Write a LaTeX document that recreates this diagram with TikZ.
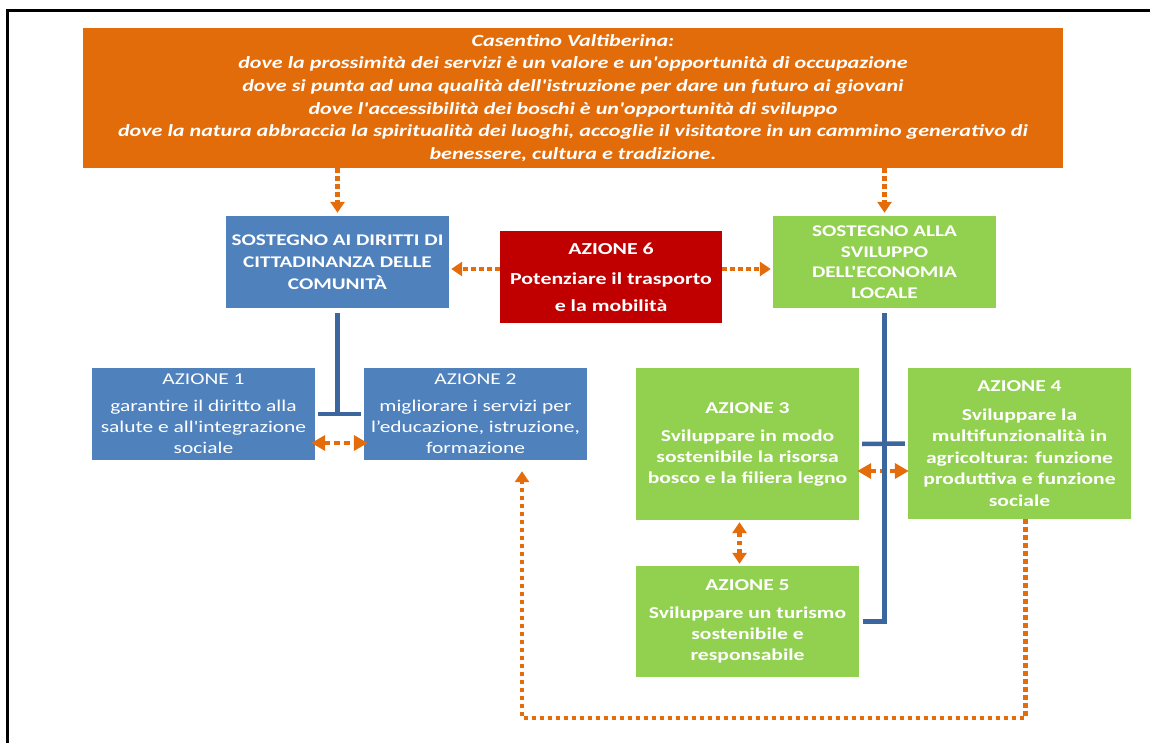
\documentclass[tikz,border=0pt]{standalone}
\usepackage{fontspec}
\setmainfont{Carlito}[FakeStretch=1.3, Ligatures=TeXOff]
\usetikzlibrary{arrows.meta}
\definecolor{orbox}{HTML}{E36C0A}
\definecolor{orarr}{HTML}{E46C0A}
\definecolor{blbox}{HTML}{4F81BD}
\definecolor{blline}{HTML}{3C679E}
\definecolor{grbox}{HTML}{92D050}
\definecolor{rdbox}{HTML}{C00000}
\begin{document}
\begin{tikzpicture}[x=1pt,y=-1pt,
  box/.style={rectangle, inner sep=0pt, text=white, align=center,
    minimum width=223pt},
  bbold/.style={box, font=\fontsize{16.3}{21}\selectfont\bfseries},
  breg/.style={box, font=\fontsize{16.5}{21}\selectfont},
  dotarrow/.style={draw=orarr, line width=4.5pt, dash pattern=on 4.5pt off 3.5pt,
    -{Triangle[width=14pt,length=11pt]}, line cap=butt},
  dotboth/.style={dotarrow, {Triangle[width=14pt,length=11pt]}-{Triangle[width=14pt,length=11pt]}},
  bigboth/.style={dotarrow, dash pattern=on 6pt off 4pt, {Triangle[width=15pt,length=14pt]}-{Triangle[width=15pt,length=14pt]}},
  conn/.style={draw=blline, line width=4.5pt},
]
\useasboundingbox (0,0) rectangle (1150,743);
\draw[line width=3pt] (7,743) -- (7,11) -- (1150,11);

% top box
\node[rectangle, fill=orbox, inner sep=0pt, minimum width=980pt, minimum height=140pt,
  text=white, align=center, font=\fontsize{17}{22.6}\selectfont\bfseries\itshape]
  (top) at (573,98) {Casentino Valtiberina:\\
  dove la prossimità dei servizi è un valore e un'opportunità di occupazione\\
  dove si punta ad una qualità dell'istruzione per dare un futuro ai giovani\\
  dove l'accessibilità dei boschi è un'opportunità di sviluppo\\
  dove la natura abbraccia la spiritualità dei luoghi, accoglie il visitatore in un cammino generativo di\\
  benessere, cultura e tradizione.};

% second row
\node[bbold, fill=blbox, minimum height=92pt, font=\fontsize{16.3}{22}\selectfont\bfseries] (b1) at (337.5,262)
  {SOSTEGNO AI DIRITTI DI\\CITTADINANZA DELLE\\COMUNITÀ};
\node[bbold, fill=rdbox, minimum width=222pt, minimum height=92pt, font=\fontsize{16.8}{21}\selectfont\bfseries] (a6) at (611,277)
  {AZIONE 6\\[9pt]Potenziare il trasporto\\[6pt]e la mobilità};
\node[bbold, fill=grbox, minimum height=92pt, font=\fontsize{16.3}{20.5}\selectfont\bfseries] (g) at (884.5,262)
  {SOSTEGNO ALLA\\SVILUPPO\\DELL'ECONOMIA\\LOCALE};

% actions
\node[breg, fill=blbox, minimum height=92pt] (a1) at (203.5,414)
  {AZIONE 1\\[6pt]garantire il diritto alla\\salute e all'integrazione\\sociale};
\node[breg, fill=blbox, minimum height=92pt] (a2) at (475.5,414)
  {AZIONE 2\\[6pt]migliorare i servizi per\\l’educazione, istruzione,\\formazione};
\node[bbold, fill=grbox, minimum height=152pt, font=\fontsize{16.6}{21}\selectfont\bfseries] (a3) at (747.5,444)
  {AZIONE 3\\[7pt]Sviluppare in modo\\sostenibile la risorsa\\bosco e la filiera legno};
\node[bbold, fill=grbox, minimum height=151pt, font=\fontsize{16.6}{21.5}\selectfont\bfseries] (a4) at (1019.5,443.5)
  {AZIONE 4\\[7pt]Sviluppare la\\multifunzionalità in\\agricoltura: funzione\\produttiva e funzione\\sociale};
\node[bbold, fill=grbox, minimum height=111pt, font=\fontsize{16.6}{21}\selectfont\bfseries] (a5) at (747.5,621.5)
  {AZIONE 5\\[7pt]Sviluppare un turismo\\sostenibile e\\responsabile};

\coordinate (loopbottom) at (0,718);

% orange connectors
\draw[dotarrow, shorten >=3pt] (top.south -| b1.north) -- (b1.north);
\draw[dotarrow, shorten >=3pt] (top.south -| g.north) -- (g.north);
\draw[dotarrow, shorten >=2pt] ([yshift=8pt]a6.west) -- ([yshift=8pt]a6.west -| b1.east);
\draw[dotarrow, shorten >=2pt] ([yshift=8pt]a6.east) -- ([yshift=8pt]a6.east -| g.west);
\draw[bigboth, shorten <=-4pt, shorten >=-4pt] ([yshift=-29pt]a1.east) -- ([yshift=-29pt]a1.east -| a2.west);
\draw[bigboth, shorten <=-2pt, shorten >=-1pt] ([yshift=-27pt]a3.east) -- ([yshift=-27pt]a3.east -| a4.west);
\draw[dotboth, shorten <=2pt, shorten >=2pt] ([xshift=-8pt]a3.south) -- ([xshift=-8pt]a5.north);
\draw[dotarrow, shorten >=11pt] ([xshift=6pt]a4.south) -- ([xshift=6pt]a4.south |- loopbottom)
  -| ([xshift=46.5pt]a2.south);

% blue connectors
\draw[conn] ([yshift=-5pt]b1.south) -- (b1.south |- a1.east);
\draw[conn] ([xshift=3pt]a1.east) -- ([xshift=-3pt]a2.west);
\draw[conn] ([yshift=-5pt]g.south) |- ([xshift=4pt]a5.east);
\draw[conn] ([xshift=3pt]a3.east) -- ([xshift=-3pt]a4.west);
\end{tikzpicture}
\end{document}
